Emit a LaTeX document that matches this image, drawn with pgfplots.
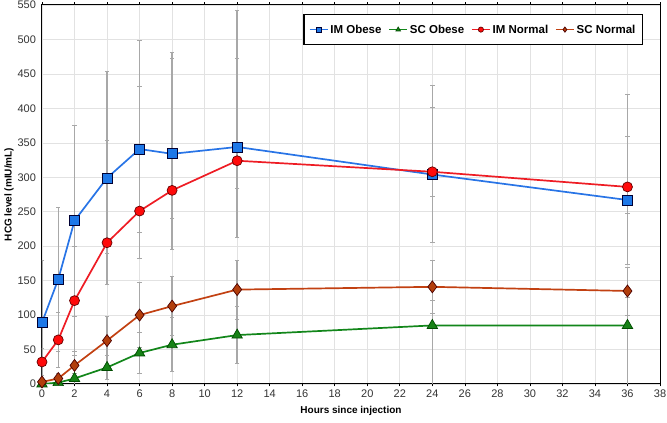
\documentclass[border=0pt]{standalone}
\usepackage{fontspec}
\setmainfont{Liberation Sans}
\usepackage{pgfplots}
\usepackage{pgfplotstable}
\pgfplotsset{compat=1.18}
\definecolor{imob}{HTML}{2874E6}
\definecolor{imobf}{HTML}{1E78E8}
\definecolor{scob}{HTML}{12861A}
\definecolor{scobf}{HTML}{168216}
\definecolor{imno}{HTML}{EE1C24}
\definecolor{imnof}{HTML}{FF0A0A}
\definecolor{scno}{HTML}{C24112}
\definecolor{scnof}{HTML}{B23E0C}
\definecolor{errc}{HTML}{A8A8A8}
\definecolor{gridc}{HTML}{E2E2E2}

% x y plus minus
\pgfplotstableread{
x y ep em
0 89 91 89
1 152 105 105
2 237 139 139
4 299 155 155
6 341 158 158
8 334 139 139
12 344 198 60
24 304 130 31
36 267 154 93
}\imobese
\pgfplotstableread{
x y ep em
0 0 0 0
1 2 2 2
2 8 8 8
4 24 17 17
6 45 30 30
8 57 39 39
12 71 41 41
24 85 36 85
36 85 41 85
}\scobese
\pgfplotstableread{
x y ep em
0 32 20 20
1 64 40 40
2 121 79 79
4 205 149 15
6 251 181 31
8 281 201 40
12 324 149 111
24 308 94 103
36 286 74 38
}\imnormal
\pgfplotstableread{
x y ep em
0 3 3 3
1 8 8 8
2 27 20 20
4 63 35 35
6 100 47 47
8 113 43 43
12 137 43 43
24 141 39 39
36 135 35 35
}\scnormal

\begin{document}
\begin{tikzpicture}
\useasboundingbox (-42pt,-39pt) rectangle (625pt,384pt);
\begin{axis}[
  scale only axis,
  width=618pt, height=379pt,
  xmin=0, xmax=38, ymin=0, ymax=550,
  xtick={0,2,...,38}, ytick={0,50,...,550},
  grid=major,
  major grid style={gridc, line width=0.6pt},
  axis line style={black, line width=1pt},
  tick style={black, line width=0.6pt},
  tick align=outside,
  major tick length=2.5pt,
  ytick style={draw=none},
  /pgf/number format/assume math mode=true,
  ticklabel style={font=\fontsize{11}{12}\selectfont, text=black!80},
  xlabel={\bfseries Hours since injection},
  ylabel={\bfseries HCG level (mIU/mL)},
  label style={font=\fontsize{10}{12}\selectfont},
  ylabel style={yshift=-3pt},
  xlabel style={yshift=-2pt},
  clip mode=individual,
  legend columns=4,
  legend style={at={(0.9725,0.976)}, anchor=north east, draw=black, line width=1.2pt,
    font=\fontsize{11.5}{13}\selectfont\bfseries, inner xsep=5pt, inner ysep=8pt,
    /tikz/every even column/.append style={column sep=5pt}},
  legend image code/.code={%
    \draw[mark repeat=2,mark phase=2,#1,line width=1.4pt,mark size=2.6pt]
      plot coordinates {(0pt,0pt) (9pt,0pt) (18pt,0pt)};},
  legend cell align=left,
  error bars/error bar style={errc, line width=1.5pt},
  error bars/error mark options={errc, rotate=90, mark size=2.2pt, line width=0.7pt},
]
% error bars drawn first (behind)
\addplot[draw=none, forget plot, error bars/.cd, y dir=both, y explicit]
  table[x=x, y=y, y error plus=ep, y error minus=em] {\imobese};
\addplot[draw=none, forget plot, error bars/.cd, y dir=both, y explicit]
  table[x=x, y=y, y error plus=ep, y error minus=em] {\scobese};
\addplot[draw=none, forget plot, error bars/.cd, y dir=both, y explicit]
  table[x=x, y=y, y error plus=ep, y error minus=em] {\imnormal};
\addplot[draw=none, forget plot, error bars/.cd, y dir=both, y explicit]
  table[x=x, y=y, y error plus=ep, y error minus=em] {\scnormal};

\addplot[imob, line width=1.7pt, mark=square*, mark size=5pt,
  mark options={fill=imobf, draw=black!80!blue, line width=0.7pt}]
  table[x=x, y=y] {\imobese};
\addlegendentry{IM Obese}
\addplot[scob, line width=1.7pt, mark=triangle*, mark size=6pt,
  mark options={fill=scobf, draw=black!70!green, line width=0.7pt}]
  table[x=x, y=y] {\scobese};
\addlegendentry{SC Obese}
\addplot[imno, line width=1.7pt, mark=*, mark size=5pt,
  mark options={fill=imnof, draw=black!60!red, line width=0.7pt}]
  table[x=x, y=y] {\imnormal};
\addlegendentry{IM Normal}
\addplot[scno, line width=1.7pt, mark=diamond*, mark size=6pt,
  mark options={fill=scnof, draw=black!70!red, line width=0.7pt}]
  table[x=x, y=y] {\scnormal};
\addlegendentry{SC Normal}
\end{axis}
\end{tikzpicture}
\end{document}
